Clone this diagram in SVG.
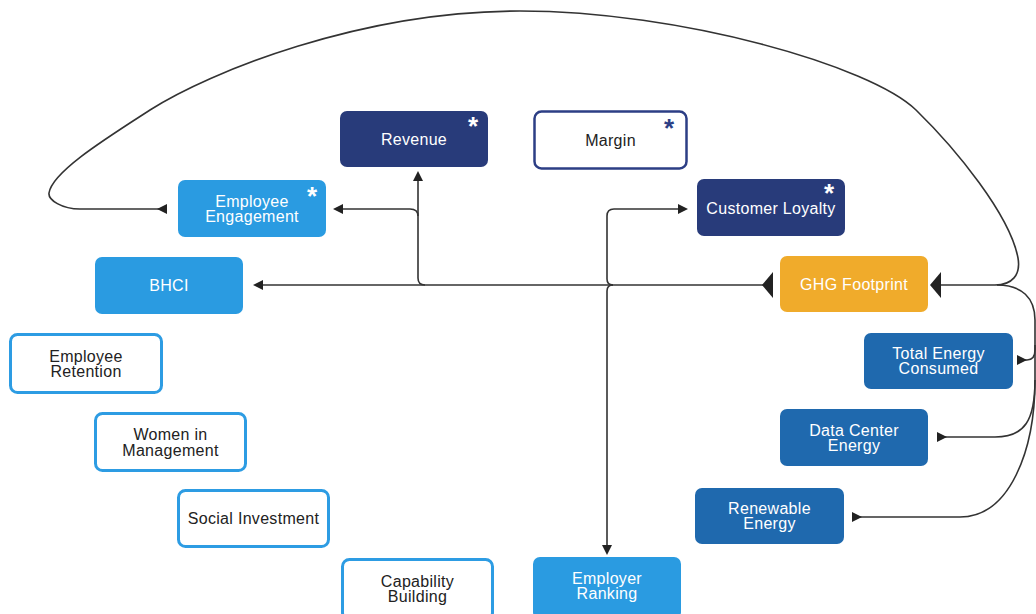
<svg xmlns="http://www.w3.org/2000/svg" width="1036" height="614" viewBox="0 0 1036 614">
<style>
text{font-family:"Liberation Sans",Arial,sans-serif;font-size:16px;letter-spacing:0.3px;text-anchor:middle}
.w{fill:#ffffff}
.k{fill:#222222}
.star{font-size:26px;font-weight:bold;letter-spacing:0}
.navy{fill:#283b7a}
.lb{fill:#2a9be1}
.mb{fill:#1f69ae}
.or{fill:#f0ab2b}
.ol{fill:#ffffff;stroke:#2d9ce3;stroke-width:3}
.olm{fill:#ffffff;stroke:#2c3e85;stroke-width:2.5}
.c{fill:none;stroke:#333333;stroke-width:1.6}
</style>
<defs>
<marker id="a" markerUnits="userSpaceOnUse" markerWidth="10" markerHeight="10" refX="0" refY="5" orient="auto-start-reverse"><path d="M0,0 L10,5 L0,10 z" fill="#222"/></marker>
<marker id="ab" markerUnits="userSpaceOnUse" markerWidth="11" markerHeight="26" refX="0" refY="13" orient="auto-start-reverse"><path d="M0,0 L11,13 L0,26 z" fill="#222"/></marker>
<marker id="r" markerUnits="userSpaceOnUse" markerWidth="10" markerHeight="10" refX="10" refY="5" orient="auto"><path d="M10,0 L0,5 L10,10 z" fill="#222"/></marker>
<marker id="rb" markerUnits="userSpaceOnUse" markerWidth="11" markerHeight="26" refX="11" refY="13" orient="auto"><path d="M11,0 L0,13 L11,26 z" fill="#222"/></marker>
</defs>
<g id="connectors">
<path class="c" d="M263,285 H773" marker-start="url(#a)" marker-end="url(#rb)"/>
<path class="c" d="M425,285 Q418,285 418,278 V181" marker-end="url(#a)"/>
<path class="c" d="M418,216 C418,211 415,209 410,209 H343" marker-end="url(#a)"/>
<path class="c" d="M613,285 Q607,285 607,279 V216 Q607,209 614,209 H678" marker-end="url(#a)"/>
<path class="c" d="M613,285 Q607,285 607,291 V545" marker-end="url(#a)"/>
<path class="c" d="M941,285 H995 C1012,285 1021,275 1018,258 C1010,215 956,149 916,110 C871,66 680,11 520,11 C360,11 210,72 150,110 C105,139 52,172 49,193 C48,200 62,209 80,209 H167" marker-start="url(#ab)" marker-end="url(#r)"/>
<path class="c" d="M997,285 C1022,285 1035,298 1035,320 V350 C1035,357 1032,360 1027,360 H1017" marker-end="url(#r)"/>
<path class="c" d="M1035,345 V380 C1035,420 1025,437 995,437 H937" marker-end="url(#r)"/>
<path class="c" d="M1035,380 C1035,450 1010,517 960,517 H852" marker-end="url(#r)"/>
</g>
<g id="revenue"><rect class="navy" x="340" y="111" width="148" height="56" rx="7"/><text class="w" x="414" y="144.5">Revenue</text><text class="w star" x="473" y="135">*</text></g>
<g id="margin"><rect class="olm" x="534.5" y="111.5" width="152" height="57" rx="7"/><text class="k" x="610.5" y="146">Margin</text><text class="star" x="669" y="137" fill="#2c3e85">*</text></g>
<g id="employee-engagement"><rect class="lb" x="178" y="180" width="148" height="57" rx="7"/><text class="w" x="252" y="207">Employee</text><text class="w" x="252" y="222">Engagement</text><text class="w star" x="312" y="205">*</text></g>
<g id="customer-loyalty"><rect class="navy" x="697" y="179" width="148" height="57" rx="7"/><text class="w" x="771" y="213.5">Customer Loyalty</text><text class="w star" x="829" y="202">*</text></g>
<g id="bhci"><rect class="lb" x="95" y="257" width="148" height="57" rx="7"/><text class="w" x="169" y="290.5">BHCI</text></g>
<g id="ghg-footprint"><rect class="or" x="780" y="256" width="148" height="56" rx="7"/><text class="w" x="854" y="289.5">GHG Footprint</text></g>
<g id="employee-retention"><rect class="ol" x="10.5" y="334.5" width="151" height="58" rx="7"/><text class="k" x="86" y="362">Employee</text><text class="k" x="86" y="377">Retention</text></g>
<g id="women-in-management"><rect class="ol" x="95.5" y="413.5" width="150" height="57" rx="7"/><text class="k" x="170.5" y="440">Women in</text><text class="k" x="170.5" y="456">Management</text></g>
<g id="social-investment"><rect class="ol" x="178.5" y="490.5" width="150" height="56" rx="7"/><text class="k" x="253.5" y="523.5">Social Investment</text></g>
<g id="capability-building"><rect class="ol" x="342.5" y="559.5" width="150" height="60" rx="7"/><text class="k" x="417.5" y="587">Capability</text><text class="k" x="417.5" y="602">Building</text></g>
<g id="employer-ranking"><rect class="lb" x="533" y="557" width="148" height="62" rx="7"/><text class="w" x="607" y="584">Employer</text><text class="w" x="607" y="599">Ranking</text></g>
<g id="total-energy-consumed"><rect class="mb" x="864" y="333" width="149" height="56" rx="7"/><text class="w" x="938.5" y="359">Total Energy</text><text class="w" x="938.5" y="374">Consumed</text></g>
<g id="data-center-energy"><rect class="mb" x="780" y="409" width="148" height="57" rx="7"/><text class="w" x="854" y="436">Data Center</text><text class="w" x="854" y="451">Energy</text></g>
<g id="renewable-energy"><rect class="mb" x="695" y="488" width="149" height="56" rx="7"/><text class="w" x="769.5" y="514">Renewable</text><text class="w" x="769.5" y="529">Energy</text></g>
</svg>
